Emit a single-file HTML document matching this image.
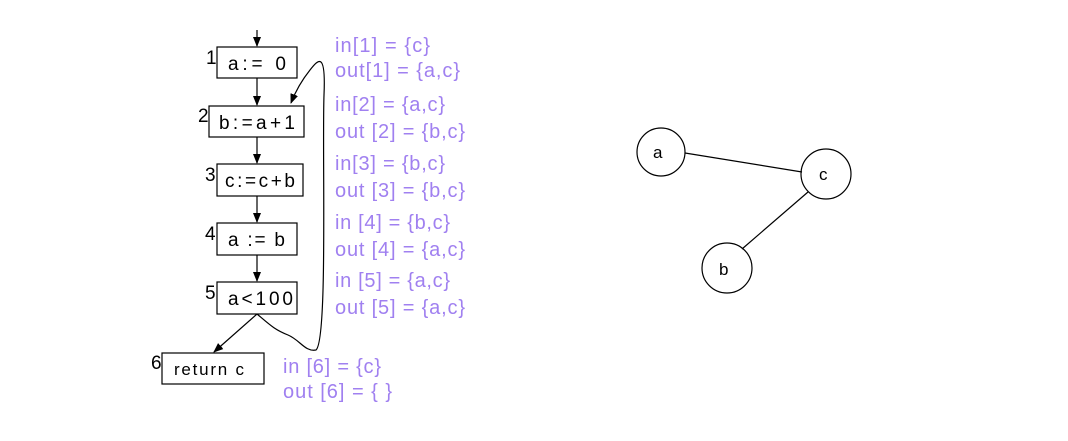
<!DOCTYPE html>
<html><head><style>html,body{margin:0;padding:0;background:#fff;}</style></head>
<body>
<svg width="1068" height="436" viewBox="0 0 1068 436" xmlns="http://www.w3.org/2000/svg" font-family="Liberation Sans, sans-serif">
<defs><marker id="ar" markerWidth="10" markerHeight="10" refX="9" refY="5" orient="auto" markerUnits="userSpaceOnUse"><path d="M0,1 L10,5 L0,9 z" fill="#000"/></marker></defs>
<g fill="none" stroke="#000" stroke-width="1.2">
<rect x="217" y="47" width="80" height="31"/>
<rect x="209" y="106" width="95" height="31"/>
<rect x="217" y="164" width="86" height="32"/>
<rect x="217" y="223" width="80" height="32"/>
<rect x="217" y="282" width="80" height="32"/>
<rect x="162" y="353" width="102" height="31"/>
<line x1="257" y1="30" x2="257" y2="46" marker-end="url(#ar)"/>
<line x1="257" y1="78" x2="257" y2="105" marker-end="url(#ar)"/>
<line x1="257" y1="137" x2="257" y2="163" marker-end="url(#ar)"/>
<line x1="257" y1="196" x2="257" y2="222" marker-end="url(#ar)"/>
<line x1="257" y1="255" x2="257" y2="281" marker-end="url(#ar)"/>
<line x1="257" y1="314" x2="214" y2="352" marker-end="url(#ar)"/>
<path d="M257,314 C270,325 275,330 288,335 C300,340 305,352 316,350 C328,340 322,150 324,95 C326,50 318,60 310,70 C302,80 296,90 291,103" marker-end="url(#ar)"/>
<circle cx="661" cy="152" r="24"/>
<circle cx="826" cy="174" r="25"/>
<circle cx="727" cy="268" r="25"/>
<line x1="685" y1="153" x2="802" y2="172"/>
<line x1="808" y1="192" x2="742" y2="249"/>
</g>
<g font-size="19" fill="#000">
<text x="228" y="70" textLength="58">a:= 0</text>
<text x="219" y="129" textLength="76">b:=a+1</text>
<text x="225" y="187" textLength="70">c:=c+b</text>
<text x="228" y="246" textLength="57">a := b</text>
<text x="228" y="305" textLength="65">a&lt;100</text>
<text x="174" y="375" font-size="17" textLength="70">return c</text>
<text x="206" y="64">1</text>
<text x="198" y="122">2</text>
<text x="205" y="181">3</text>
<text x="205" y="240">4</text>
<text x="205" y="299">5</text>
<text x="151" y="369">6</text>
<text x="653" y="158" font-size="17">a</text>
<text x="819" y="180" font-size="17">c</text>
<text x="719" y="275" font-size="17">b</text>
</g>
<g font-size="20" fill="#a080f0">
<text x="335" y="52" textLength="95">in[1] = {c}</text>
<text x="335" y="77" textLength="125">out[1] = {a,c}</text>
<text x="335" y="111" textLength="110">in[2] = {a,c}</text>
<text x="335" y="138" textLength="130">out [2] = {b,c}</text>
<text x="335" y="170" textLength="110">in[3] = {b,c}</text>
<text x="335" y="197" textLength="130">out [3] = {b,c}</text>
<text x="335" y="229" textLength="115">in [4] = {b,c}</text>
<text x="335" y="256" textLength="130">out [4] = {a,c}</text>
<text x="335" y="287" textLength="115">in [5] = {a,c}</text>
<text x="335" y="314" textLength="130">out [5] = {a,c}</text>
<text x="283" y="373" textLength="98">in [6] = {c}</text>
<text x="283" y="398" textLength="109">out [6] = { }</text>
</g>
</svg>
</body></html>
